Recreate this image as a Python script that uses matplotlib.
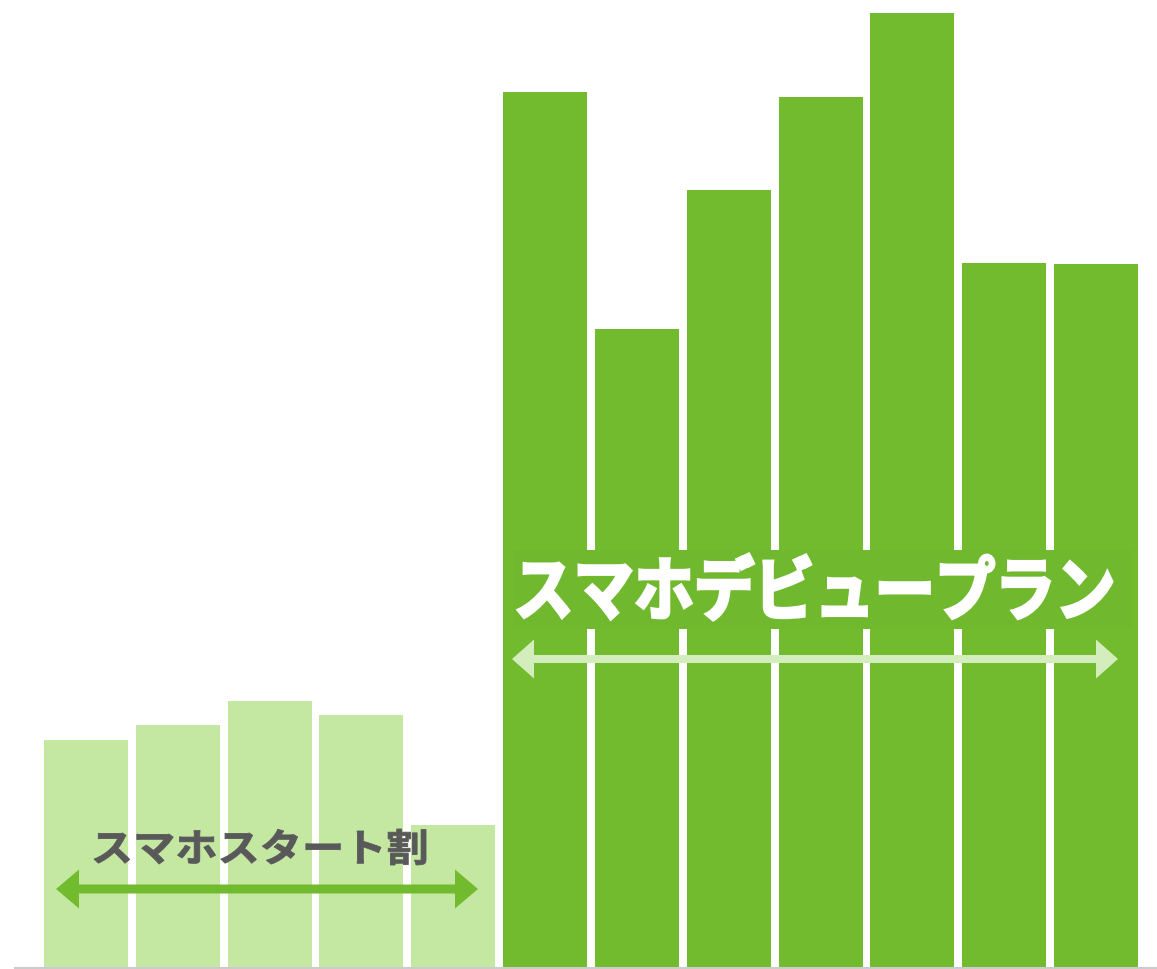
import matplotlib
matplotlib.use("Agg")
import matplotlib.pyplot as plt
from matplotlib.transforms import Affine2D
from matplotlib.textpath import TextPath
from matplotlib.font_manager import FontProperties
from matplotlib.patches import PathPatch, FancyArrow, Rectangle

plt.rcParams['font.family'] = ['Noto Sans CJK JP', 'DejaVu Sans']

# bar heights
start_values = [228, 243, 267, 253, 143]
debut_values = [876, 639, 778, 871, 955, 705, 704]
start_label = "スマホスタート割"
debut_label = "スマホデビュープラン"

light_green = "#c4e8a2"
dark_green = "#72bb2e"
arrow_light = "#d4edbc"

W, H = 1157, 969
fig = plt.figure(figsize=(W / 100, H / 100), dpi=100)
ax = fig.add_axes([0, 0, 1, 1])
ax.axis("off")

values = start_values + debut_values
colors = [light_green] * len(start_values) + [dark_green] * len(debut_values)
x = list(range(len(values)))
ax.bar(x, values, width=0.915, color=colors, linewidth=0)
ax.axhline(0, xmin=15 / W, xmax=1, color="#cccccc", lw=1.5)

ax.set_xlim(-0.937, 11.664)
ax.set_ylim(-1, 968)

# pixel coords, origin top-left
px = Affine2D().scale(1, -1).translate(0, H)

def double_arrow(x0, x1, y, color, width, head_w, head_l):
    mid = (x0 + x1) / 2
    for end in (x0, x1):
        a = FancyArrow(mid, y, end - mid, 0, width=width, head_width=head_w,
                       head_length=head_l, length_includes_head=True,
                       color=color, lw=0, transform=px)
        fig.add_artist(a)

def fit_text(s, box, color, weight="bold", stroke=0):
    # stretch a text path into a pixel box (x0, top, x1, bottom)
    tp = TextPath((0, 0), s, size=100,
                  prop=FontProperties(family="Noto Sans CJK JP", weight=weight))
    bb = tp.get_extents()
    bx0, top, bx1, bottom = box
    tr = (Affine2D().translate(-bb.x0, -bb.y0)
          .scale((bx1 - bx0) / bb.width, (bottom - top) / bb.height)
          .translate(bx0, H - bottom))
    fig.add_artist(PathPatch(tp, transform=tr, fc=color, ec=color, lw=stroke))

# lower label
fit_text(start_label, (94, 829, 426, 865), "#595959", stroke=0.6)
double_arrow(56, 478, 889, dark_green, 9, 39, 23)

# banner
fig.add_artist(Rectangle((513, 550), 619, 79, transform=px,
                         fc="#70b82e", ec="none"))
fit_text(debut_label, (518, 554, 1112, 620), "white", stroke=2.2)
double_arrow(512, 1118, 659, arrow_light, 8, 39, 22)

fig.savefig("out.png", dpi=100)
